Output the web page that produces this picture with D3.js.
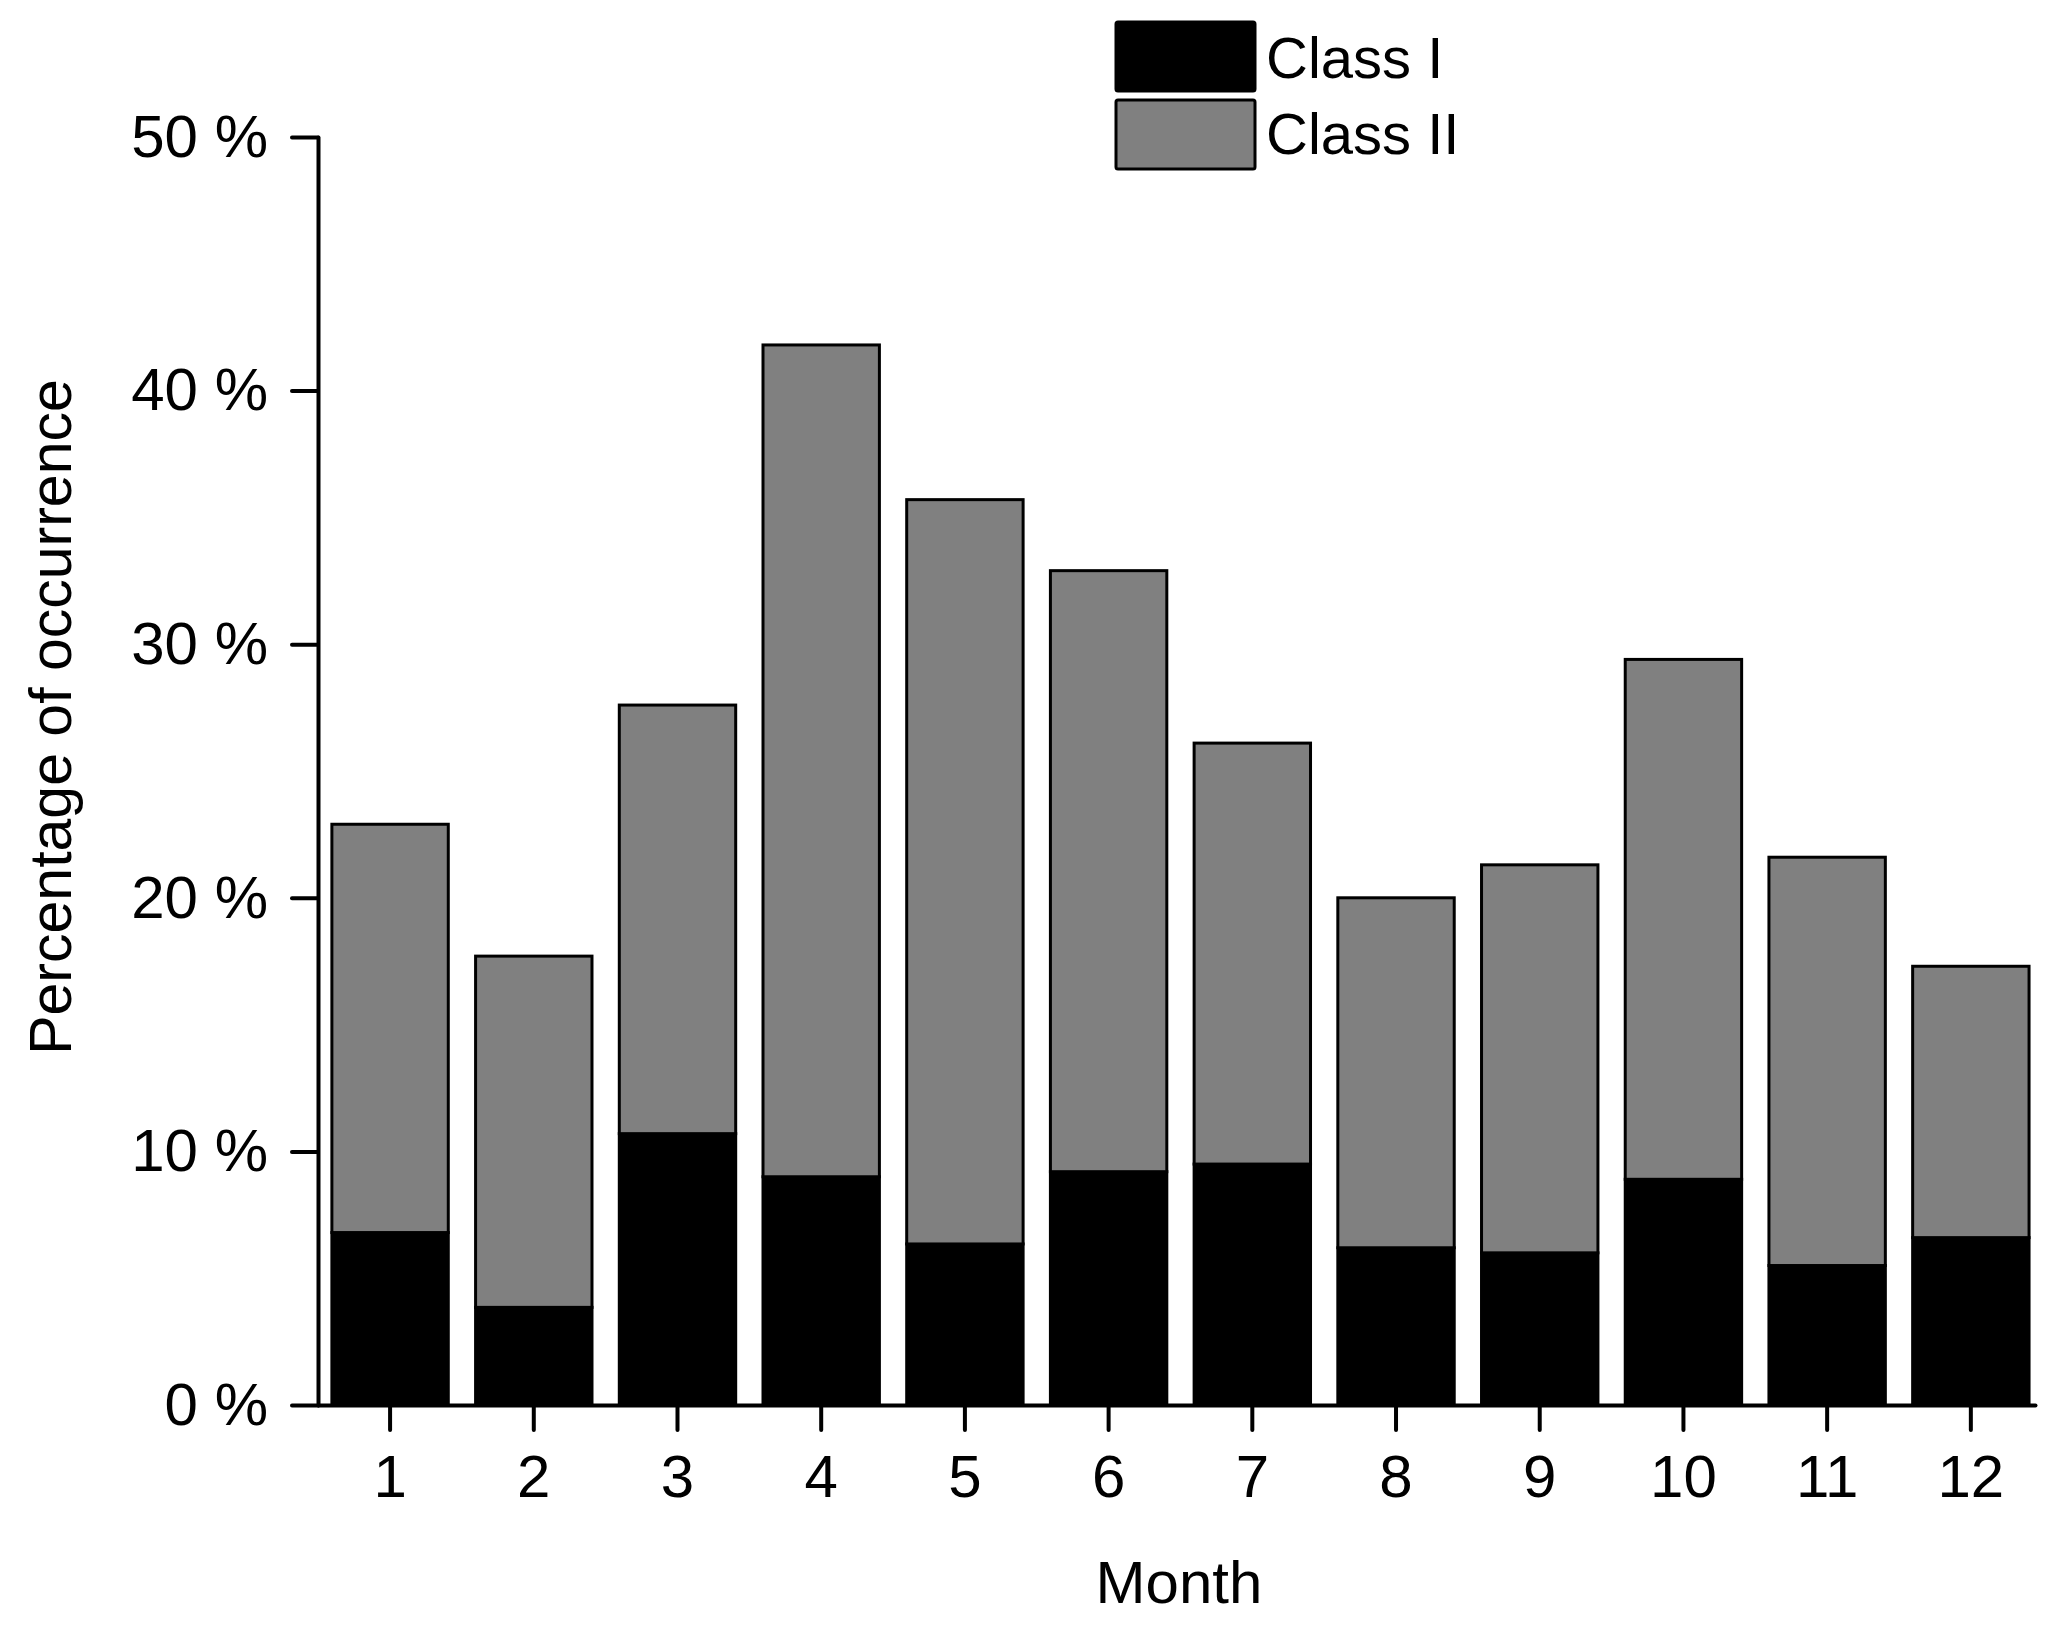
<!DOCTYPE html>
<html>
<head>
<meta charset="utf-8">
<script src="https://cdn.jsdelivr.net/npm/d3@7"></script>
<style>
  body { margin: 0; background: #fff; }
  svg { display: block; font-family: "Liberation Sans", Arial, sans-serif; }
  .axis path, .axis line { stroke: #000; stroke-width: 4; stroke-linecap: round; }
  .axis text { font-size: 60px; fill: #000; font-family: "Liberation Sans", Arial, sans-serif; }
</style>
</head>
<body>
<script>
// Data
const months = ['1', '2', '3', '4', '5', '6', '7', '8', '9', '10', '11', '12'];
const classI = [6.8, 3.85, 10.7, 9.0, 6.35, 9.2, 9.5, 6.2, 6.0, 8.9, 5.5, 6.6];
const totals = [22.9, 17.7, 27.6, 41.8, 35.7, 32.9, 26.1, 20.0, 21.3, 29.4, 21.6, 17.3];
const classII = totals.map((t, i) => +(t - classI[i]).toFixed(2));
const yTicks = [0, 10, 20, 30, 40, 50];
const seriesNames = ['Class I', 'Class II'];
const seriesColors = ['#000000', '#808080'];

const width = 2067, height = 1629;
const plotLeft = 318, plotRight = 2035, plotTop = 137, plotBottom = 1405;

let svg = d3.select('body').append('svg')
  .attr('width', width)
  .attr('height', height);

let x = d3.scaleBand()
  .domain(months)
  .range([plotLeft, plotRight])
  .paddingInner(0.19)
  .paddingOuter(0.069)
  .align(0.7);

let y = d3.scaleLinear()
  .domain([0, 50])
  .range([plotBottom, plotTop]);

// stacked bars
let rows = months.map((m, i) => ({ month: m, c1: classI[i], c2: classII[i] }));
let stack = d3.stack().keys(['c1', 'c2'])(rows);

svg.append('g')
  .selectAll('g')
  .data(stack)
  .enter()
  .append('g')
  .attr('fill', (d, i) => seriesColors[i])
  .selectAll('rect')
  .data(d => d)
  .enter()
  .append('rect')
  .attr('x', d => x(d.data.month))
  .attr('width', x.bandwidth())
  .attr('y', d => y(d[1]))
  .attr('height', d => y(d[0]) - y(d[1]))
  .attr('stroke', '#000')
  .attr('stroke-width', 3);

// axes
svg.append('g')
  .attr('class', 'axis')
  .attr('transform', `translate(0,${plotBottom})`)
  .call(d3.axisBottom(x).tickSize(25).tickSizeOuter(0).tickPadding(24));

svg.append('g')
  .attr('class', 'axis')
  .attr('transform', `translate(${plotLeft},0)`)
  .call(d3.axisLeft(y).tickValues(yTicks).tickSize(26).tickSizeOuter(0).tickPadding(24)
    .tickFormat(d => d + ' %'));

// axis titles
svg.append('text')
  .attr('x', 1179)
  .attr('y', 1603)
  .attr('text-anchor', 'middle')
  .attr('font-size', 60)
  .text('Month');

svg.append('text')
  .attr('transform', 'translate(71,717) rotate(-90)')
  .attr('text-anchor', 'middle')
  .attr('font-size', 59)
  .text('Percentage of occurrence');

// legend
let legend = svg.append('g').attr('transform', 'translate(1116,22)');
seriesNames.forEach((name, i) => {
  legend.append('rect')
    .attr('x', 0)
    .attr('y', i * 78)
    .attr('width', 139)
    .attr('height', 69)
    .attr('rx', 2)
    .attr('fill', seriesColors[i])
    .attr('stroke', '#000')
    .attr('stroke-width', 3);
  legend.append('text')
    .attr('x', 150)
    .attr('y', i * 76 + 56)
    .attr('font-size', 58)
    .text(name);
});
</script>
</body>
</html>
